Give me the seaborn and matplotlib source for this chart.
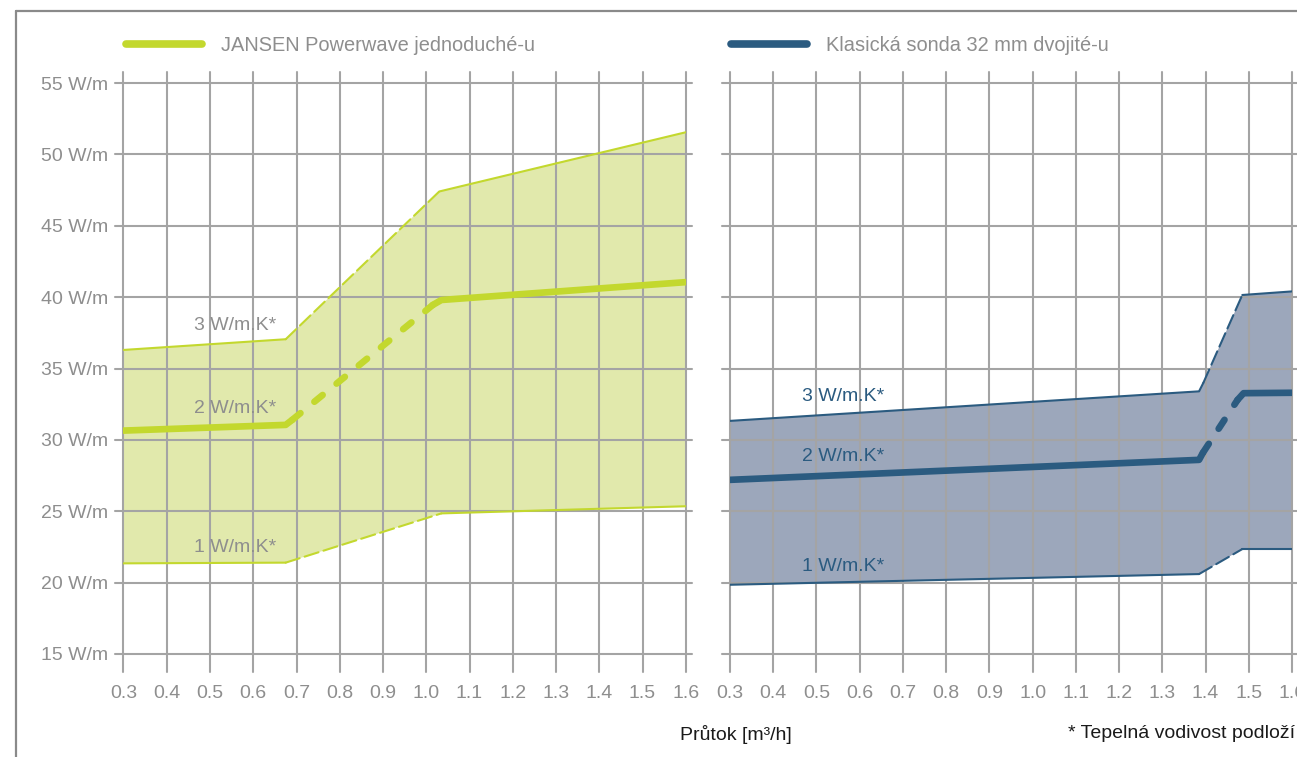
import numpy as np
import pandas as pd
import seaborn as sns
import matplotlib
matplotlib.use("Agg")
import matplotlib.pyplot as plt
from matplotlib.lines import Line2D

# ---------------- data ----------------
x_ticks = [0.3, 0.4, 0.5, 0.6, 0.7, 0.8, 0.9, 1.0, 1.1, 1.2, 1.3, 1.4, 1.5, 1.6]
x_tick_labels = ["0.3", "0.4", "0.5", "0.6", "0.7", "0.8", "0.9", "1.0",
                 "1.1", "1.2", "1.3", "1.4", "1.5", "1.6"]
y_ticks = [15, 20, 25, 30, 35, 40, 45, 50, 55]
y_tick_labels = ["15 W/m", "20 W/m", "25 W/m", "30 W/m", "35 W/m",
                 "40 W/m", "45 W/m", "50 W/m", "55 W/m"]

series_names = ["JANSEN Powerwave jednoduché-u", "Klasická sonda 32 mm dvojité-u"]
curve_labels = ["3 W/m.K*", "2 W/m.K*", "1 W/m.K*"]

# JANSEN Powerwave (left panel)
jansen_x_hi = [0.3, 0.675, 1.03, 1.6]
jansen_y_hi = [36.3, 37.05, 47.4, 51.55]
jansen_s_hi = ["solid", "dashed", "solid"]
jansen_x_mid = [0.3, 0.675, 0.69, 1.015, 1.035, 1.6]
jansen_y_mid = [30.65, 31.05, 31.4, 39.45, 39.8, 41.05]
jansen_s_mid = ["solid", "solid", "dashed", "solid", "solid"]
jansen_x_lo = [0.3, 0.675, 1.035, 1.6]
jansen_y_lo = [21.35, 21.4, 24.85, 25.35]
jansen_s_lo = ["solid", "dashed", "solid"]

# Klasická sonda (right panel)
classic_x_hi = [0.3, 1.385, 1.395, 1.485, 1.6]
classic_y_hi = [31.33, 33.4, 34.0, 40.15, 40.4]
classic_s_hi = ["solid", "solid", "dashed", "solid"]
classic_x_mid = [0.3, 1.385, 1.394, 1.474, 1.488, 1.6]
classic_y_mid = [27.2, 28.6, 29.1, 32.8, 33.27, 33.3]
classic_s_mid = ["solid", "solid", "dashed", "solid", "solid"]
classic_x_lo = [0.3, 1.385, 1.485, 1.6]
classic_y_lo = [19.85, 20.6, 22.35, 22.35]
classic_s_lo = ["solid", "dashed", "solid"]

# ---------------- style ----------------
sns.set_theme(style="white")
plt.rcParams["font.family"] = ["Liberation Sans", "DejaVu Sans"]

W, H = 1297, 757
GREEN = "#c3d82e"
GREEN_FILL = "#e1e9ac"
BLUE = "#2b5b80"
BLUE_FILL = "#9ca7bb"
GRID = "#a4a4a4"
TXT = "#8e8e8e"

fig = plt.figure(figsize=(W / 100, H / 100), dpi=100)
fig.patch.set_facecolor("white")

top_px, bot_px = 83, 654
ax1 = fig.add_axes([123.5 / W, 1 - bot_px / H, (685.8 - 123.5) / W, (bot_px - top_px) / H])
ax2 = fig.add_axes([730 / W, 1 - bot_px / H, (1292 - 730) / W, (bot_px - top_px) / H])


def draw_curve(ax, xs, ys, styles, color, lw, dash):
    # group consecutive intervals with the same style
    i = 0
    n = len(styles)
    while i < n:
        j = i
        while j + 1 < n and styles[j + 1] == styles[i]:
            j += 1
        seg = pd.DataFrame({"x": xs[i:j + 2], "y": ys[i:j + 2]})
        ls = "-" if styles[i] == "solid" else (0, dash)
        sns.lineplot(data=seg, x="x", y="y", ax=ax, color=color, linewidth=lw,
                     linestyle=ls, sort=False, estimator=None,
                     solid_capstyle="round", dash_capstyle="round",
                     solid_joinstyle="round", zorder=3)
        i = j + 1


def panel(ax, xhi, yhi, shi, xmid, ymid, smid, xlo, ylo, slo,
          line_c, fill_c, label_c, label_x, label_ys, show_y):
    ax.set_xlim(0.3, 1.6)
    ax.set_ylim(15, 55)
    for s in ax.spines.values():
        s.set_visible(False)
    ax.patch.set_alpha(0)
    # fill band between upper and lower curves
    px = np.concatenate([np.array(xhi), np.array(xlo)[::-1]])
    py = np.concatenate([np.array(yhi), np.array(ylo)[::-1]])
    ax.fill(px, py, color=fill_c, lw=0, zorder=1)
    # grid with protruding tick extensions
    ext_b = 18 / (bot_px - top_px)
    ext_t = 11 / (bot_px - top_px)
    for xv in x_ticks:
        ax.axvline(xv, ymin=-ext_b, ymax=1 + ext_t, color=GRID, lw=1.5,
                   clip_on=False, zorder=2)
    for yv in y_ticks:
        ax.axhline(yv, xmin=-8 / 562, xmax=1 + 6 / 562, color=GRID, lw=1.5,
                   clip_on=False, zorder=2)
    draw_curve(ax, xhi, yhi, shi, line_c, 1.5, (7, 2.5))
    draw_curve(ax, xlo, ylo, slo, line_c, 1.5, (7, 2.5))
    draw_curve(ax, xmid, ymid, smid, line_c, 4.8, (1.6, 2.7))
    for t, yv in zip(curve_labels, label_ys):
        ax.text(label_x, yv, t, color=label_c, fontsize=14, ha="left",
                va="center", zorder=4)
    ax.set_xticks(x_ticks)
    ax.set_xticklabels(x_tick_labels)
    ax.set_yticks(y_ticks)
    if show_y:
        ax.set_yticklabels(y_tick_labels)
    else:
        ax.set_yticklabels([])
    ax.tick_params(axis="x", length=0, pad=22, labelsize=14, labelcolor=TXT)
    ax.tick_params(axis="y", length=0, pad=11, labelsize=14, labelcolor=TXT)
    ax.set_xlabel("")
    ax.set_ylabel("")


panel(ax1, jansen_x_hi, jansen_y_hi, jansen_s_hi, jansen_x_mid, jansen_y_mid,
      jansen_s_mid, jansen_x_lo, jansen_y_lo, jansen_s_lo,
      GREEN, GREEN_FILL, TXT, 0.463, [38.0, 32.2, 22.45], True)
panel(ax2, classic_x_hi, classic_y_hi, classic_s_hi, classic_x_mid, classic_y_mid,
      classic_s_mid, classic_x_lo, classic_y_lo, classic_s_lo,
      BLUE, BLUE_FILL, BLUE, 0.466, [33.05, 28.85, 21.15], False)

# legends
for ax, name, col, x0 in [(ax1, series_names[0], GREEN, 126), (ax2, series_names[1], BLUE, 731)]:
    h = Line2D([], [], color=col, lw=5.5, solid_capstyle="round")
    ax.legend([h], [name], loc="center left", bbox_to_anchor=(x0 / W, 1 - 45.5 / H),
              bbox_transform=fig.transFigure, frameon=False, borderpad=0,
              borderaxespad=0, handlelength=3.8, handletextpad=0.95,
              fontsize=14.4, labelcolor=TXT)

# frame lines
fig.add_artist(Line2D([16 / W, 1], [1 - 11 / H, 1 - 11 / H], transform=fig.transFigure,
                      color="#8a8a8a", lw=1.6))
fig.add_artist(Line2D([16 / W, 16 / W], [0, 1 - 11 / H], transform=fig.transFigure,
                      color="#8a8a8a", lw=1.6))

fig.text(680 / W, 1 - 734 / H, "Průtok [m³/h]", fontsize=14, color="#1a1a1a",
         ha="left", va="center")
fig.text(1068 / W, 1 - 734 / H, "* Tepelná vodivost podloží", fontsize=14,
         color="#1a1a1a", ha="left", va="center")

fig.savefig("out.png", dpi=100)
